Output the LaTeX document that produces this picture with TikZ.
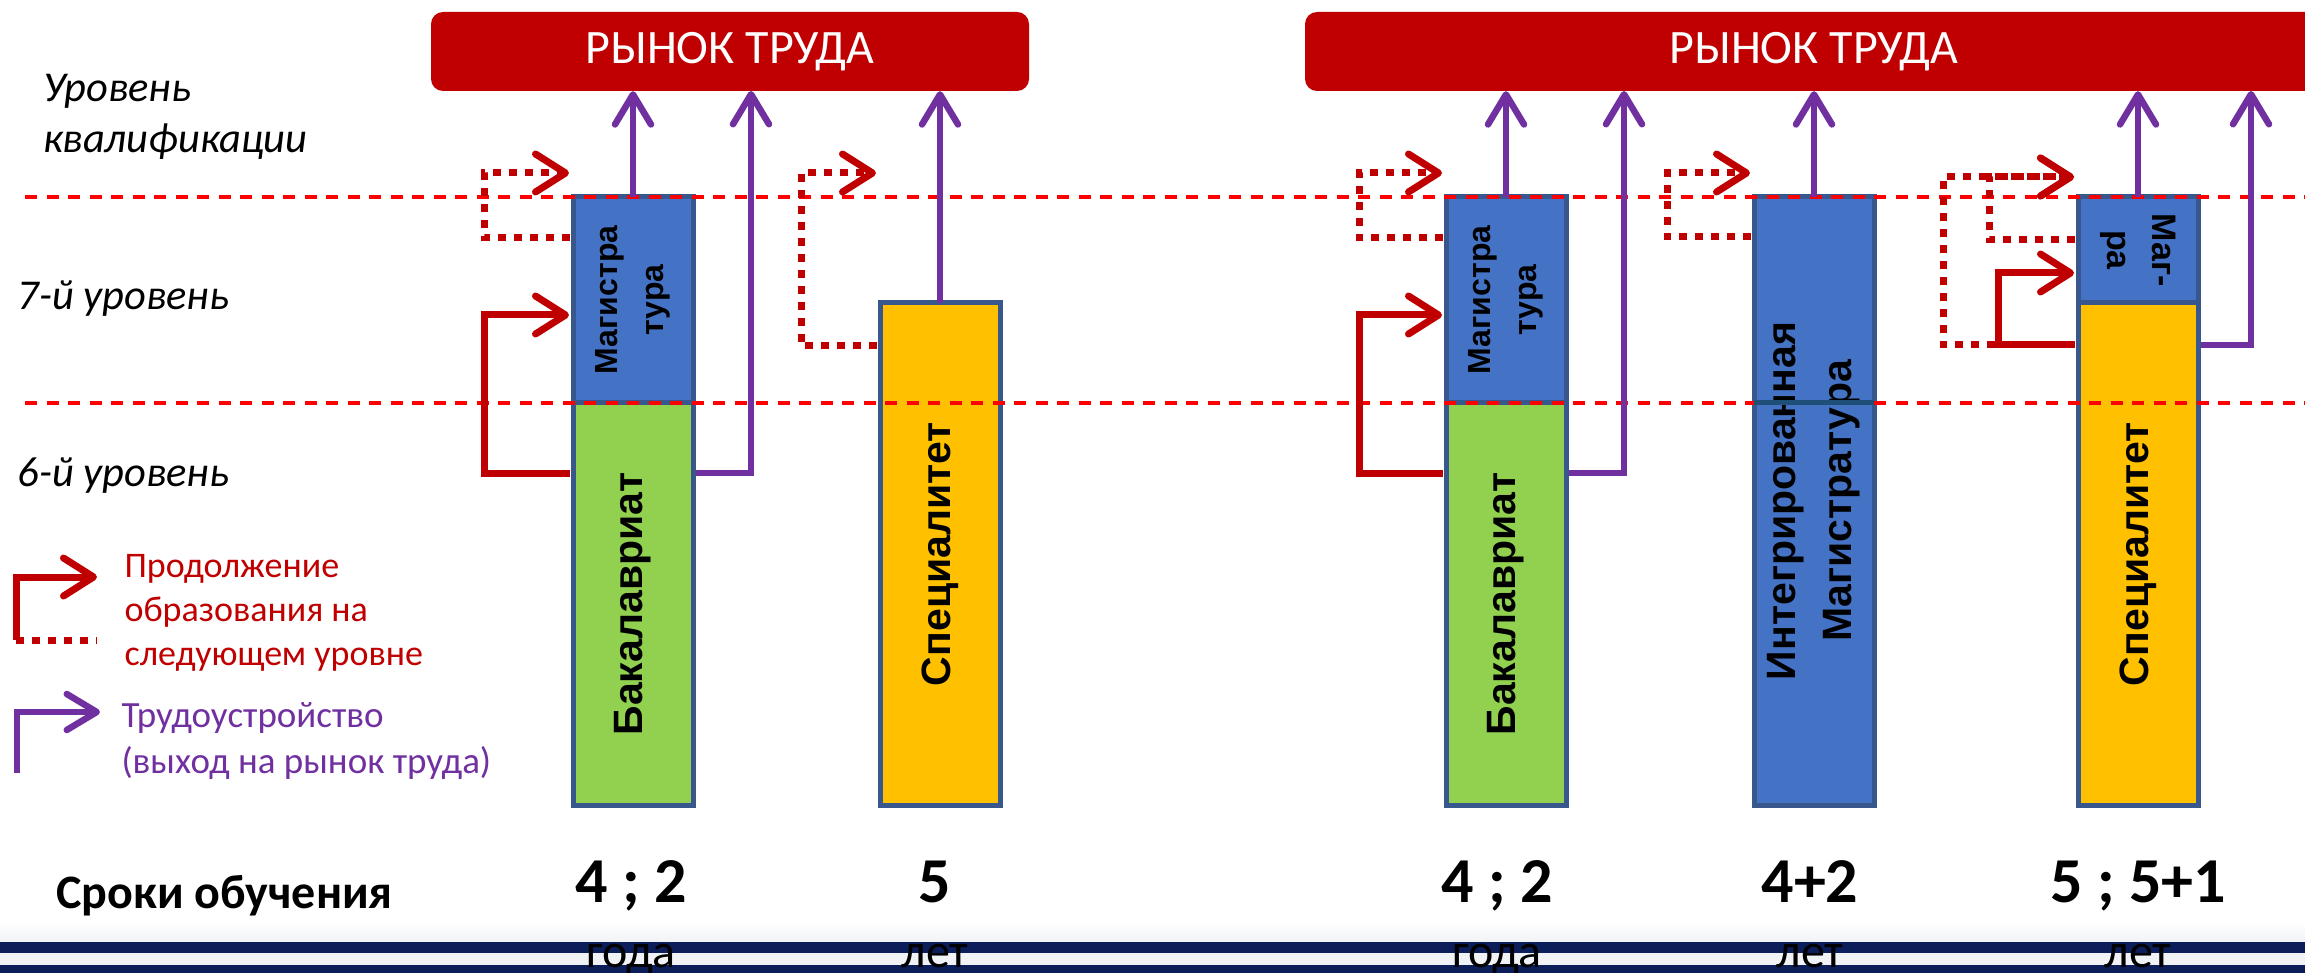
\documentclass[tikz,border=0pt]{standalone}
\usepackage{fontspec}
\setmainfont{Carlito}
\newfontfamily\barfont{Liberation Sans}
\usetikzlibrary{arrows.meta}

\definecolor{marketred}{RGB}{192,0,0}
\definecolor{jobviolet}{RGB}{112,48,160}
\definecolor{levelred}{RGB}{255,0,0}
\definecolor{barblue}{RGB}{68,114,196}
\definecolor{bargreen}{RGB}{146,208,80}
\definecolor{barorange}{RGB}{255,192,0}
\definecolor{barline}{RGB}{56,87,140}
\definecolor{seamline}{RGB}{31,78,121}
\definecolor{navy}{RGB}{11,30,90}
\definecolor{paleband}{RGB}{240,242,246}
\newcommand{\setfs}[2]{\fontsize{#1}{#2}\selectfont}

\begin{document}
\begin{tikzpicture}[x=1pt,y=-1pt,
  bar/.style={draw=barline,line width=5pt,minimum width=120pt,inner sep=0pt,outer sep=0pt,anchor=north},
  bartext/.style={font=\barfont\bfseries\setfs{41}{56},align=center,inner sep=0pt},
  market/.style={fill=marketred,rounded corners=12pt,text=white,font=\setfs{48}{52},inner sep=0pt,minimum height=79pt},
  job/.style={draw=jobviolet,line width=6.5pt,-{Straight Barb[length=30pt,width=36pt,round]}},
  study/.style={draw=marketred,line width=7pt,-{Straight Barb[length=30pt,width=38pt,round]}},
  dots/.style={draw=marketred,line width=7pt,dash pattern=on 8pt off 8pt},
  studydots/.style={dots,-{Straight Barb[length=30pt,width=38pt,round]}},
  level/.style={draw=levelred,line width=3.5pt,dash pattern=on 12pt off 9.5pt},
]
\path[use as bounding box] (0,0) rectangle (2305,973);
\clip (0,0) rectangle (2305,973);

% bars
\node[bar,fill=barblue,minimum height=206pt] (mag1) at (633,197) {};
\node[bar,fill=bargreen,minimum height=402pt] (bak1) at (633,403) {};
\node[bar,fill=barorange,minimum height=502pt] (spec1) at (940,303) {};
\node[bar,fill=barblue,minimum height=206pt] (mag2) at (1506,197) {};
\node[bar,fill=bargreen,minimum height=402pt] (bak2) at (1506,403) {};
\node[bar,fill=barblue,minimum height=608pt] (integ) at (1814,197) {};
\node[bar,fill=barblue,minimum height=106pt] (mag3) at (2138,197) {};
\node[bar,fill=barorange,minimum height=502pt] (spec2) at (2138,303) {};

\node[bartext,rotate=90,font=\barfont\bfseries\setfs{32}{46}] (mag1txt) at (mag1.center) {Магистра\\тура};
\node[bartext,rotate=90] (bak1txt) at (bak1.center) {Бакалавриат};
\node[bartext,rotate=90] (spec1txt) at (spec1.center) {Специалитет};
\node[bartext,rotate=90,font=\barfont\bfseries\setfs{32}{46}] (mag2txt) at (mag2.center) {Магистра\\тура};
\node[bartext,rotate=90] (bak2txt) at (bak2.center) {Бакалавриат};
\node[bartext,rotate=90] (integtxt) at (integ.center) {Интегрированная\\Магистратура};
\node[bartext,rotate=-90,font=\barfont\bfseries\setfs{34}{45}] (mag3txt) at (mag3.center) {Маг-\\ра};
\node[bartext,rotate=90] (spec2txt) at (spec2.center) {Специалитет};

% levels
\foreach \y in {197,403}
    \draw[level] (25,\y) -- (2305,\y);
\draw[seamline,line width=5pt] (integ.west |- bak2.north) -- (integ.east |- bak2.north);

% market
\node[market,minimum width=598pt] (market1) at (730,51.5) {РЫНОК ТРУДА};
\node[market,minimum width=1018pt] (market2) at (1814,51.5) {РЫНОК ТРУДА};

\coordinate (up1) at (751,91);
\coordinate (up2) at (1624,91);
\coordinate (up3) at (2251,91);

% employment
\draw[job] (mag1.north) -- (mag1.north |- market1.south);
\draw[job] ([xshift=3pt,yshift=131pt]bak1.east) -| (up1);
\draw[job] (spec1.north) -- (spec1.north |- market1.south);
\draw[job] (mag2.north) -- (mag2.north |- market2.south);
\draw[job] ([xshift=3pt,yshift=131pt]bak2.east) -| (up2);
\draw[job] (integ.north) -- (integ.north |- market2.south);
\draw[job] (mag3.north) -- (mag3.north |- market2.south);
\draw[job] ([xshift=3pt,yshift=209pt]spec2.east) -| (up3);

% next level
\draw[study] ([xshift=-3pt,yshift=131pt]bak1.west) -- ++(-86,0) |- ([xshift=-4pt,yshift=-15pt]mag1.west);
\draw[studydots] ([xshift=-3pt,yshift=62pt]mag1.west) -- ++(-86,0) |- ([xshift=-4pt,yshift=127pt]mag1.west);
\draw[studydots] ([xshift=-3pt,yshift=208pt]spec1.west) -- ++(-76,0) |- ([xshift=-4pt,yshift=381pt]spec1.west);
\draw[study] ([xshift=-3pt,yshift=131pt]bak2.west) -- ++(-84,0) |- ([xshift=-4pt,yshift=-15pt]mag2.west);
\draw[studydots] ([xshift=-3pt,yshift=62pt]mag2.west) -- ++(-84,0) |- ([xshift=-4pt,yshift=127pt]mag2.west);
\draw[studydots] ([xshift=-3pt,yshift=264pt]integ.west) -- ++(-84,0) |- ([xshift=-4pt,yshift=328pt]integ.west);
\draw[studydots] ([xshift=-3pt,yshift=10pt]mag3.west) -- ++(-86,0) |- ([xshift=-4pt,yshift=73pt]mag3.west);
\draw[studydots] ([xshift=-3pt,yshift=209pt]spec2.west) -- ++(-132,0) |- ([xshift=-4pt,yshift=73pt]mag3.west);
\draw[study] ([xshift=-3pt,yshift=209pt]spec2.west) -- ++(-77,0) |- ([xshift=-4pt,yshift=-23pt]mag3.west);

% labels
\node[anchor=base west,align=left,font=\itshape\setfs{42.5}{51}] (lvl) at (40,153) {Уровень\\квалификации};
\node[anchor=base west,font=\itshape\setfs{42.5}{50}] (lvl7) at (14,310) {7-й уровень};
\node[anchor=base west,font=\itshape\setfs{42.5}{50}] (lvl6) at (14,486) {6-й уровень};

% legend
\coordinate (ls0) at (16,640);
\coordinate (ls1) at (97,577);
\draw[dots] (ls0) -- (ls0 -| ls1);
\draw[study] (ls0) |- (ls1);
\node[anchor=base west,align=left,text=marketred,font=\setfs{36}{44}] (legstudy) at (121,665) {Продолжение\\образования на\\следующем уровне};
\coordinate (lj0) at (17,773);
\coordinate (lj1) at (100,712);
\draw[job] (lj0) |- (lj1);
\node[anchor=base west,align=left,text=jobviolet,font=\setfs{37}{46}] (legjob) at (118,773) {Трудоустройство\\(выход на рынок труда)};

% footer band
\shade[top color=white,bottom color=paleband] (0,922) rectangle (2305,942);
\fill[navy] (0,942) rectangle (2305,953);
\fill[paleband] (0,953) rectangle (2305,965);
\fill[navy] (0,965) rectangle (2305,973);

% terms
\node[anchor=base west,font=\bfseries\setfs{48}{52}] (terms) at (53,908) {Сроки обучения};
\node[anchor=base,font=\bfseries\setfs{64}{70}] (t1) at (631,902) {4 ; 2};
\node[anchor=base,font=\setfs{48}{50}] (t1y) at (631,967) {года};
\node[anchor=base,font=\bfseries\setfs{64}{70}] (t2) at (935,902) {5};
\node[anchor=base,font=\setfs{48}{50}] (t2y) at (935,967) {лет};
\node[anchor=base,font=\bfseries\setfs{64}{70}] (t3) at (1497,902) {4 ; 2};
\node[anchor=base,font=\setfs{48}{50}] (t3y) at (1497,967) {года};
\node[anchor=base,font=\bfseries\setfs{64}{70}] (t4) at (1810,902) {4+2};
\node[anchor=base,font=\setfs{48}{50}] (t4y) at (1810,967) {лет};
\node[anchor=base,font=\bfseries\setfs{64}{70}] (t5) at (2138,902) {5 ; 5+1};
\node[anchor=base,font=\setfs{48}{50}] (t5y) at (2138,967) {лет};

\end{tikzpicture}
\end{document}
